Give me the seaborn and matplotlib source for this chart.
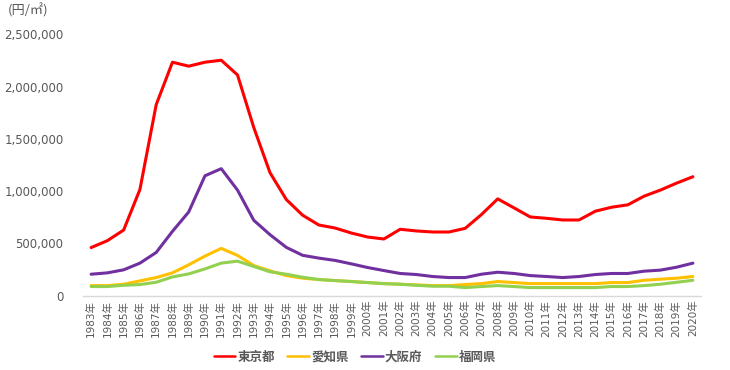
import matplotlib
matplotlib.use("Agg")
import matplotlib.pyplot as plt
import matplotlib.ticker as mticker
import seaborn as sns
import pandas as pd

years = [f"{y}年" for y in range(1983, 2021)]

tokyo = [460000, 526000, 628000, 1016000, 1827000, 2234000, 2196000, 2234000, 2253000, 2112000,
         1609000, 1176000, 920000, 770000, 676000, 647000, 599000, 561000, 542000, 635000,
         619000, 609000, 609000, 644000, 776000, 926000, 840000, 753000, 740000, 724000,
         724000, 808000, 846000, 869000, 952000, 1010000, 1077000, 1138000]
aichi = [96000, 96000, 109000, 141000, 173000, 218000, 295000, 378000, 452000, 385000,
         288000, 237000, 192000, 167000, 154000, 144000, 135000, 125000, 115000, 109000,
         103000, 96000, 96000, 106000, 115000, 135000, 125000, 115000, 115000, 115000,
         115000, 115000, 125000, 125000, 147000, 157000, 167000, 183000]
osaka = [205000, 218000, 247000, 311000, 413000, 615000, 801000, 1147000, 1215000, 1010000,
         721000, 583000, 462000, 386000, 359000, 337000, 304000, 269000, 240000, 212000,
         202000, 183000, 173000, 173000, 205000, 224000, 212000, 192000, 183000, 173000,
         183000, 202000, 212000, 212000, 234000, 244000, 272000, 311000]
fukuoka = [87000, 87000, 99000, 106000, 128000, 179000, 208000, 256000, 311000, 330000,
           279000, 228000, 205000, 176000, 154000, 144000, 135000, 125000, 115000, 109000,
           99000, 90000, 90000, 77000, 87000, 96000, 87000, 77000, 77000, 77000,
           77000, 77000, 87000, 87000, 96000, 109000, 128000, 147000]

prefs = ["東京都", "愛知県", "大阪府", "福岡県"]
colors = ["#FF0000", "#FFC000", "#7030A0", "#92D050"]

frames = []
for name, vals in zip(prefs, [tokyo, aichi, osaka, fukuoka]):
    frames.append(pd.DataFrame({"year": years, "price": vals, "pref": name}))
df = pd.concat(frames, ignore_index=True)

sns.set_style("white")
# Verdana-like digits with a Japanese fallback
plt.rcParams["font.family"] = ["DejaVu Sans", "Noto Sans CJK JP"]
jp = ["Noto Sans CJK JP", "DejaVu Sans"]

fig = plt.figure(figsize=(7.3, 3.7), dpi=100)
ax = fig.add_axes([0.1137, 0.201, 0.8466, 0.706])

sns.lineplot(data=df, x="year", y="price", hue="pref", hue_order=prefs,
             palette=colors, linewidth=2.2, sort=False, legend=False, ax=ax)

ax.set_xlim(-0.5, len(years) - 0.5)
ax.set_ylim(0, 2500000)
ax.set_yticks(range(0, 2500001, 500000))
ax.yaxis.set_major_formatter(mticker.StrMethodFormatter("{x:,.0f}"))
ax.set_xticks(range(len(years)))
ax.set_xticklabels(years, rotation=90, fontsize=7.5, color="#595959")
ax.tick_params(axis="y", labelsize=8.5, labelcolor="#595959", length=0, pad=14)
ax.tick_params(axis="x", length=0, pad=3)
ax.set_xlabel("")
ax.set_ylabel("")
for side in ["top", "right", "left"]:
    ax.spines[side].set_visible(False)
ax.spines["bottom"].set_color("#D9D9D9")
ax.spines["bottom"].set_linewidth(1)

fig.text(0.011, 0.972, "(円/㎡)", fontsize=9.5, color="#595959", va="center", ha="left",
         family=jp)

handles = [plt.Line2D([], [], color=c, linewidth=1.8) for c in colors]
leg = fig.legend(handles, prefs, loc="center", bbox_to_anchor=(0.486, 0.035),
                 ncol=4, frameon=False, handlelength=1.75, handletextpad=0.15,
                 columnspacing=1.0, prop={"size": 9, "weight": "bold", "family": jp})
for t in leg.get_texts():
    t.set_color("#595959")

fig.savefig("out.png", dpi=100)
